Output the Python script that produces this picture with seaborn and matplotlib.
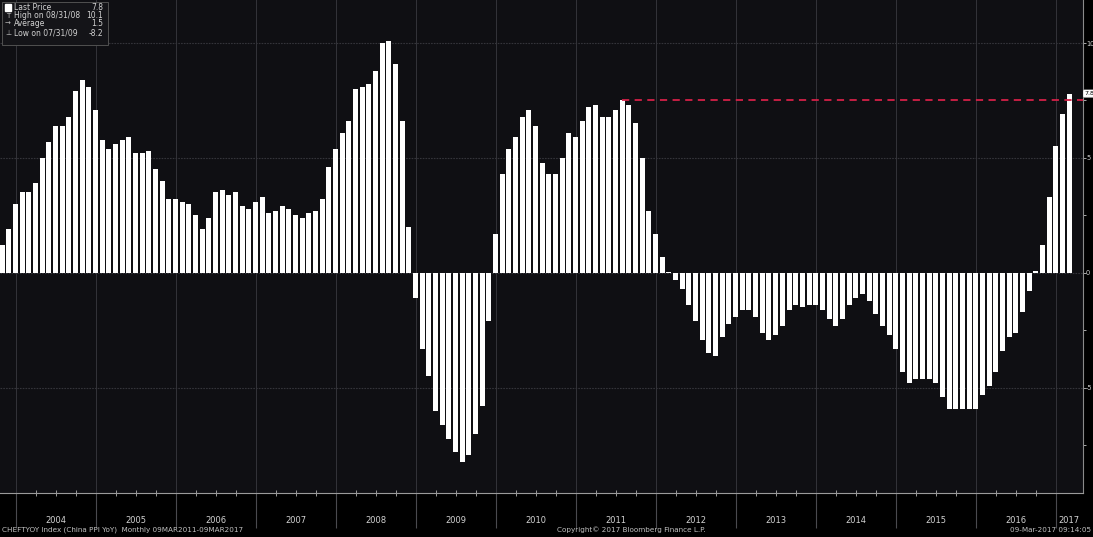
import matplotlib
matplotlib.use("Agg")
import matplotlib.pyplot as plt
import matplotlib.transforms as mtrans
from matplotlib.patches import Rectangle
import seaborn as sns
import pandas as pd

# --- data: China PPI YoY, monthly, Oct 2003 .. Feb 2017 ---
months = [d.strftime("%Y-%m") for d in pd.date_range("2003-10-01", "2017-02-01", freq="MS")]
ppi_yoy = [
    1.2, 1.9, 3.0,                                                   # 2003 Q4
    3.5, 3.5, 3.9, 5.0, 5.7, 6.4, 6.4, 6.8, 7.9, 8.4, 8.1, 7.1,      # 2004
    5.8, 5.4, 5.6, 5.8, 5.9, 5.2, 5.2, 5.3, 4.5, 4.0, 3.2, 3.2,      # 2005
    3.1, 3.0, 2.5, 1.9, 2.4, 3.5, 3.6, 3.4, 3.5, 2.9, 2.8, 3.1,      # 2006
    3.3, 2.6, 2.7, 2.9, 2.8, 2.5, 2.4, 2.6, 2.7, 3.2, 4.6, 5.4,      # 2007
    6.1, 6.6, 8.0, 8.1, 8.2, 8.8, 10.0, 10.1, 9.1, 6.6, 2.0, -1.1,   # 2008
    -3.3, -4.5, -6.0, -6.6, -7.2, -7.8, -8.2, -7.9, -7.0, -5.8, -2.1, 1.7,  # 2009
    4.3, 5.4, 5.9, 6.8, 7.1, 6.4, 4.8, 4.3, 4.3, 5.0, 6.1, 5.9,      # 2010
    6.6, 7.2, 7.3, 6.8, 6.8, 7.1, 7.5, 7.3, 6.5, 5.0, 2.7, 1.7,      # 2011
    0.7, 0.05, -0.3, -0.7, -1.4, -2.1, -2.9, -3.5, -3.6, -2.8, -2.2, -1.9,  # 2012
    -1.6, -1.6, -1.9, -2.6, -2.9, -2.7, -2.3, -1.6, -1.4, -1.5, -1.4, -1.4,  # 2013
    -1.6, -2.0, -2.3, -2.0, -1.4, -1.1, -0.9, -1.2, -1.8, -2.3, -2.7, -3.3,  # 2014
    -4.3, -4.8, -4.6, -4.6, -4.6, -4.8, -5.4, -5.9, -5.9, -5.9, -5.9, -5.9,  # 2015
    -5.3, -4.9, -4.3, -3.4, -2.8, -2.6, -1.7, -0.8, 0.1, 1.2, 3.3, 5.5,      # 2016
    6.9, 7.8,                                                        # 2017
]
year_labels = [str(y) for y in range(2004, 2018)]
legend_names = ["Last Price", "High on 08/31/08", "Average", "Low on 07/31/09"]
legend_values = ["7.8", "10.1", "1.5", "-8.2"]
legend_marks = ["", "T", "\u2192", "\u22a5"]
ref_level = 7.5          # Jul 2011 high, red dashed line
last_price = 7.8

txt = "#d2d2d2"
grid_c = "#34343a"

plt.rcParams["font.family"] = ["DejaVu Sans"]
plt.rcParams["axes.unicode_minus"] = False

fig = plt.figure(figsize=(10.93, 5.37), dpi=100, facecolor="black")
ax = fig.add_axes([0, 0.0819, 0.9909, 0.9181])
ax.set_facecolor("#0f0f13")

sns.barplot(x=months, y=ppi_yoy, color="white", saturation=1, width=0.75,
            linewidth=0, ax=ax, zorder=3)

ax.set_xlim(-0.33, 162.1)
ax.set_ylim(-9.57, 11.87)

# year boundaries sit at December bars (month-end dates)
year_idx = [months.index(f"{y}-12") for y in range(2003, 2017)]
quarter_idx = [i for i, m in enumerate(months) if m[5:] in ("03", "06", "09")]

ax.set_xticks(year_idx)
ax.set_xticklabels([])
ax.set_xticks(quarter_idx, minor=True)
ax.tick_params(axis="x", which="major", length=25, width=0.8, color="#4a4a4f", direction="out")
ax.tick_params(axis="x", which="minor", length=4, width=0.7, color="#9a9a9a", direction="inout")
ax.set_xlabel("")

ax.yaxis.tick_right()
ax.set_yticks([-5, 0, 5, 10])
ax.set_yticks([-7.5, -2.5, 2.5, 7.5], minor=True)
ax.tick_params(axis="y", which="both", length=2, width=0.7, color="#aaaaaa",
               labelcolor=txt, labelsize=4.8, pad=0.2)

ax.grid(True, axis="x", which="major", color=grid_c, lw=0.7)
ax.grid(True, axis="y", which="major", color=grid_c, lw=0.8, linestyle=(0, (1.5, 1)))
ax.set_axisbelow(True)

for s in ["top", "left"]:
    ax.spines[s].set_visible(False)
ax.spines["right"].set_color("#8a8a8a")
ax.spines["bottom"].set_color("#9a9a9a")
ax.spines["right"].set_linewidth(0.8)
ax.spines["bottom"].set_linewidth(0.8)

# year labels centred inside each year span
trans = mtrans.blended_transform_factory(ax.transData, ax.transAxes)
bounds = year_idx + [162.1]
for k, lab in enumerate(year_labels):
    ax.text((bounds[k] + bounds[k + 1]) / 2, -0.055, lab, transform=trans,
            ha="center", va="center", fontsize=6, color=txt)

# red dashed reference line from the Jul 2011 high
start = months.index("2011-07")
ax.hlines(ref_level, start, 162.1, colors="#d42048", linestyles=(0, (4, 3)), lw=1.3, zorder=4)

# last price tag on right axis
ytrans = mtrans.blended_transform_factory(ax.transAxes, ax.transData)
ax.text(1.0015, last_price, f"{last_price}", transform=ytrans, ha="left", va="center",
        fontsize=4.6, color="black", clip_on=False,
        bbox=dict(boxstyle="round,pad=0.12", fc="white", ec="white"))

# legend box top-left
W, H = 1093, 537
fig.patches.append(Rectangle((2 / W, 1 - 45 / H), 106 / W, 43 / H, transform=fig.transFigure,
                             fc="#141418", ec="#5a5a5a", lw=0.6, zorder=5))
fig.patches.append(Rectangle((5 / W, 1 - 11 / H), 6 / W, 7 / H, transform=fig.transFigure,
                             fc="white", ec="white", zorder=6))
rows = [8, 16, 24, 33]
for name, val, mk, r in zip(legend_names, legend_values, legend_marks, rows):
    yf = 1 - r / H
    fig.text(14 / W, yf, name, fontsize=5.5, color=txt, va="center", ha="left", zorder=7)
    fig.text(103 / W, yf, val, fontsize=5.5, color=txt, va="center", ha="right", zorder=7)
    if mk:
        fig.text(8 / W, yf, mk, fontsize=5, color="#bbbbbb", va="center", ha="center", zorder=7)

# footer
fig.text(2 / W, 7 / H, "CHEFTYOY Index (China PPI YoY)  Monthly 09MAR2011-09MAR2017",
         fontsize=5.2, color="#c0c0c0", va="center", ha="left")
fig.text(557 / W, 7 / H, "Copyright\u00a9 2017 Bloomberg Finance L.P.",
         fontsize=5.2, color="#c0c0c0", va="center", ha="left")
fig.text(1091 / W, 7 / H, "09-Mar-2017 09:14:05",
         fontsize=5.2, color="#c0c0c0", va="center", ha="right")

fig.savefig("out.png", dpi=100, facecolor="black")
